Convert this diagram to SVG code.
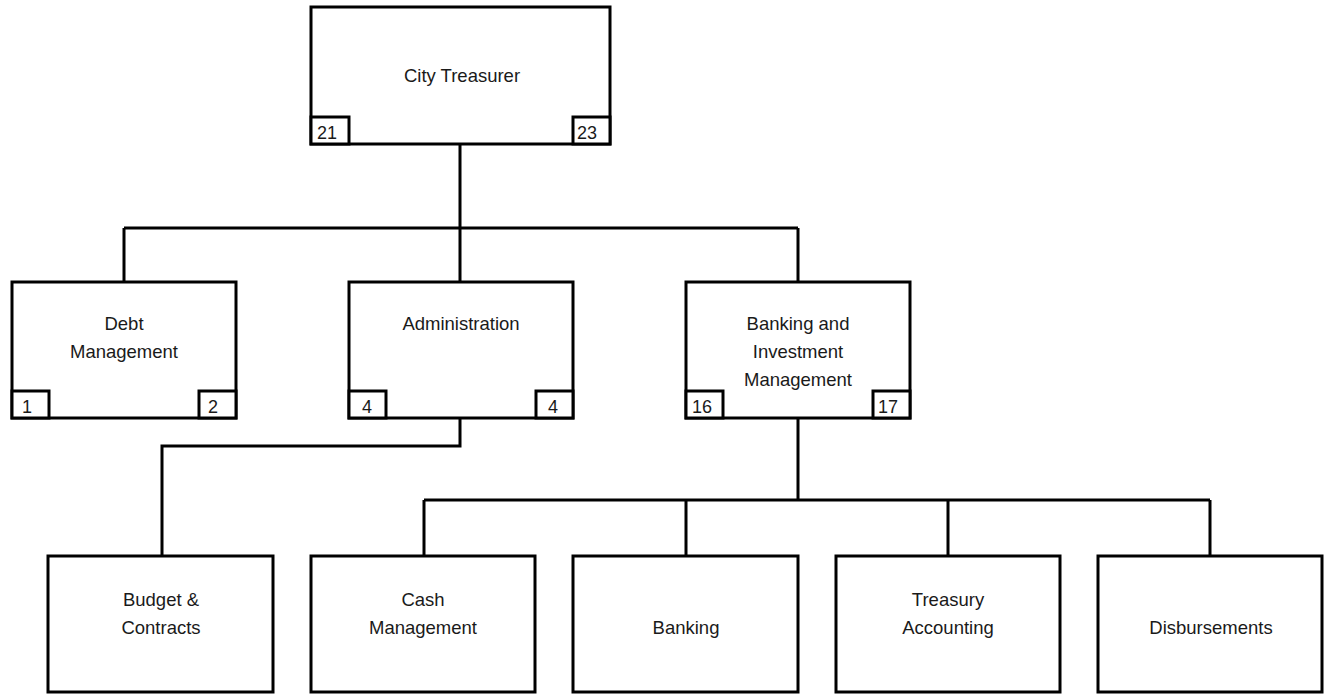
<svg xmlns="http://www.w3.org/2000/svg" width="1326" height="698" viewBox="0 0 1326 698">
<style>
.box{fill:#fff;stroke:#000;stroke-width:3}
.badge{fill:#fff;stroke:#000;stroke-width:3}
.t{font-family:"Liberation Sans",Arial,sans-serif;font-size:18.5px;fill:#1a1a1a;text-anchor:middle}
.n{font-family:"Liberation Sans",Arial,sans-serif;font-size:18px;fill:#1a1a1a}
.c{fill:none;stroke:#000;stroke-width:3}
</style>
<rect width="1326" height="698" fill="#fff"/>
<g id="connectors">
<path class="c" d="M460,144V228M124,228H798M124,228V282M460,228V282M798,228V282"/>
<path class="c" d="M460,418V446H162V556"/>
<path class="c" d="M798,418V500M424,500H1210M424,500V556M686,500V556M948,500V556M1210,500V556"/>
</g>
<g id="city-treasurer">
<rect class="box" x="311" y="7" width="299" height="137"/>
<text class="t" x="462" y="82">City Treasurer</text>
<rect class="badge" x="311" y="117" width="38" height="27"/>
<text class="n" x="317" y="139">21</text>
<rect class="badge" x="573" y="117" width="37" height="27"/>
<text class="n" x="577" y="139">23</text>
</g>
<g id="debt-management">
<rect class="box" x="12" y="282" width="224" height="136"/>
<text class="t" x="124" y="330">Debt</text>
<text class="t" x="124" y="358">Management</text>
<rect class="badge" x="12" y="391" width="37" height="27"/>
<text class="n" x="22" y="413">1</text>
<rect class="badge" x="199" y="391" width="37" height="27"/>
<text class="n" x="208" y="413">2</text>
</g>
<g id="administration">
<rect class="box" x="349" y="282" width="224" height="136"/>
<text class="t" x="461" y="330">Administration</text>
<rect class="badge" x="349" y="391" width="37" height="27"/>
<text class="n" x="362" y="413">4</text>
<rect class="badge" x="536" y="391" width="37" height="27"/>
<text class="n" x="548" y="413">4</text>
</g>
<g id="banking-investment">
<rect class="box" x="686" y="282" width="224" height="136"/>
<text class="t" x="798" y="330">Banking and</text>
<text class="t" x="798" y="358">Investment</text>
<text class="t" x="798" y="386">Management</text>
<rect class="badge" x="686" y="391" width="37" height="27"/>
<text class="n" x="692" y="413">16</text>
<rect class="badge" x="873" y="391" width="37" height="27"/>
<text class="n" x="878" y="413">17</text>
</g>
<g id="budget-contracts">
<rect class="box" x="48" y="556" width="225" height="136"/>
<text class="t" x="161" y="606">Budget &amp;</text>
<text class="t" x="161" y="634">Contracts</text>
</g>
<g id="cash-management">
<rect class="box" x="311" y="556" width="224" height="136"/>
<text class="t" x="423" y="606">Cash</text>
<text class="t" x="423" y="634">Management</text>
</g>
<g id="banking">
<rect class="box" x="573" y="556" width="225" height="136"/>
<text class="t" x="686" y="634">Banking</text>
</g>
<g id="treasury-accounting">
<rect class="box" x="836" y="556" width="224" height="136"/>
<text class="t" x="948" y="606">Treasury</text>
<text class="t" x="948" y="634">Accounting</text>
</g>
<g id="disbursements">
<rect class="box" x="1098" y="556" width="224" height="136"/>
<text class="t" x="1211" y="634">Disbursements</text>
</g>
</svg>
